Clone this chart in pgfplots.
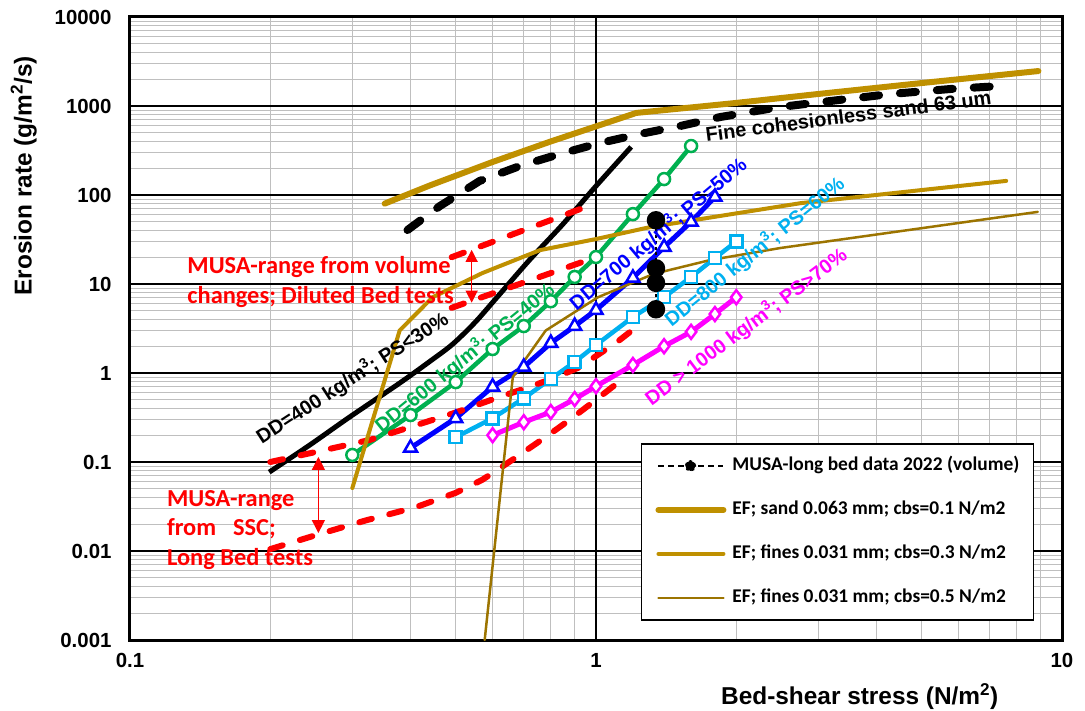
\documentclass[border=0pt]{standalone}
\usepackage{fontspec}
\setmainfont{Liberation Sans}
\newfontfamily\calibri{Carlito}
\usepackage{pgfplots}
\pgfplotsset{compat=1.18}
\usetikzlibrary{arrows.meta}

\definecolor{efgold}{RGB}{191,144,0}
\definecolor{efbrown}{RGB}{156,116,0}
\definecolor{ddgreen}{RGB}{0,176,80}
\definecolor{ddcyan}{RGB}{0,176,240}
\definecolor{ddmag}{RGB}{255,0,255}

\newcommand{\tickfont}{\bfseries\fontsize{20.5}{24}\selectfont}
\newcommand{\titlefont}{\bfseries\fontsize{24.5}{28}\selectfont}
\newcommand{\curvefont}{\bfseries\fontsize{20}{24}\selectfont}
\newcommand{\notefont}{\calibri\bfseries\fontsize{24.5}{30}\selectfont}

\begin{document}
\begin{tikzpicture}
\useasboundingbox (-130bp,-71bp) rectangle (955bp,640bp);
\begin{axis}[
    scale only axis, width=932bp, height=623bp,
    xmode=log, ymode=log,
    xmin=0.1, xmax=10, ymin=0.001, ymax=10000,
    xtick={0.1,1,10}, xticklabels={0.1,1,10},
    ytick={0.001,0.01,0.1,1,10,100,1000,10000},
    yticklabels={0.001,0.01,0.1,1,10,100,1000,10000},
    grid=both,
    major grid style={black, line width=1.5bp},
    minor grid style={black!25, line width=1bp},
    axis line style={black, line width=3bp},
    major tick length=0pt, minor tick length=0pt,
    tick label style={font=\tickfont},
    yticklabel style={xshift=-15bp},
    xticklabel style={yshift=-10bp},
    xlabel={Bed-shear stress (N/m\textsuperscript{2})},
    ylabel={Erosion rate (g/m\textsuperscript{2}/s)},
    label style={font=\titlefont},
    xlabel style={at={(axis description cs:0.783,-0.0915)}, anchor=center},
    ylabel style={at={(axis description cs:-0.114,0.745)}, anchor=center},
    legend style={
        at={(axis description cs:0.970,0.316)}, anchor=north east,
        draw=black, line width=1.5bp, fill=white,
        font=\calibri\bfseries\fontsize{19.5}{22}\selectfont,
        inner xsep=14bp, inner ysep=13bp, row sep=26bp,
        nodes={inner sep=0pt, text height=14bp, text depth=4bp},
    },
    legend cell align=left,
    legend image code/.code={\draw[#1] (0bp,0bp) -- (65bp,0bp); \path (71bp,0bp);},
]

% major grid line at x=1 again, so the minor y grid does not break it
\addplot[black, line width=1.5bp, forget plot] coordinates {(1,0.001) (1,10000)};

% fine cohesionless sand 63 um
\addplot[black, line width=8bp, dash pattern=on 16bp off 21bp, line cap=round, forget plot] coordinates {
    (0.394,40.4) (0.462,75) (0.563,144) (0.687,212) (0.837,289) (1.02,384)
    (1.243,485) (1.516,596) (1.848,752) (2.488,975) (3.184,1138) (4.285,1364)
    (5.77,1553) (7.39,1678)
};

% DD=400
\addplot[black, line width=5bp, smooth, tension=0.5, forget plot] coordinates {
    (0.199,0.077) (0.243,0.155) (0.296,0.32) (0.379,0.77) (0.44,1.35) (0.492,2.1)
    (0.55,3.7) (0.612,7.0) (0.72,18.6) (0.849,47) (1.0,126) (1.19,347)
};

% DD=600
\addplot[ddgreen, line width=4.5bp, mark=*, mark size=6bp, mark options={fill=white, line width=2.5bp}, forget plot] coordinates {
    (0.3,0.12) (0.4,0.337) (0.5,0.79) (0.6,1.86) (0.7,3.37) (0.8,6.4)
    (0.9,12) (1.0,20.1) (1.2,61) (1.4,151) (1.6,355)
};

% DD=700
\addplot[blue, line width=5bp, mark=triangle*, mark size=7.5bp, mark options={fill=white, line width=2.5bp}, forget plot] coordinates {
    (0.4,0.144) (0.5,0.31) (0.6,0.70) (0.7,1.17) (0.8,2.17) (0.9,3.37)
    (1.0,5.1) (1.2,11.7) (1.4,26) (1.6,50) (1.8,95)
};

% DD=800
\addplot[ddcyan, line width=4.5bp, mark=square*, mark size=6bp, mark options={fill=white, line width=2.5bp}, forget plot] coordinates {
    (0.5,0.19) (0.6,0.31) (0.7,0.52) (0.8,0.86) (0.9,1.33) (1.0,2.06)
    (1.2,4.26) (1.4,7.1) (1.6,12) (1.8,19.6) (2.0,30)
};

% DD>1000
\addplot[ddmag, line width=5bp, mark=diamond*, mark size=7bp, mark options={fill=white, line width=2.5bp}, forget plot] coordinates {
    (0.6,0.20) (0.7,0.28) (0.8,0.365) (0.9,0.51) (1.0,0.71) (1.2,1.23)
    (1.4,2.0) (1.6,2.9) (1.8,4.6) (2.0,7.1)
};

% MUSA ranges
\addplot[red, line width=6bp, dash pattern=on 13bp off 18bp, line cap=round, forget plot] coordinates {
    (0.49,20) (1.0,81)
};
\addplot[red, line width=6bp, dash pattern=on 13bp off 18bp, line cap=round, forget plot] coordinates {
    (0.49,5.4) (1.0,20)
};
\addplot[red, line width=6bp, dash pattern=on 13bp off 18bp, line cap=round, forget plot] coordinates {
    (0.2,0.1) (0.251,0.13) (0.327,0.177) (0.425,0.274) (0.5,0.36) (0.622,0.54)
    (0.71,0.68) (0.824,0.90) (0.924,1.17) (1.0,1.55) (1.11,2.23) (1.19,2.96)
};
\addplot[red, line width=6bp, dash pattern=on 13bp off 18bp, line cap=round, forget plot] coordinates {
    (0.2,0.0105) (0.255,0.0155) (0.32,0.022) (0.41,0.031) (0.5,0.045) (0.57,0.063)
    (0.676,0.114) (0.79,0.2) (0.88,0.3) (1.0,0.5) (1.17,0.95)
};

% MUSA long bed data
\addplot[black, line width=1.5bp, dashed, mark=*, mark size=8.5bp, mark options={solid},
    legend image code/.code={
        \draw[black, line width=1.8bp, dash pattern=on 6bp off 4bp] (0bp,0bp) -- (65bp,0bp);
        \fill[black] (32bp,0bp) circle (5bp);
        \path (71bp,0bp);}
] coordinates {
    (1.345,5.2) (1.345,10.3) (1.345,15) (1.345,52)
};
\addlegendentry{MUSA-long bed data 2022 (volume)}

% EF curves
\addplot[efgold, line width=6bp, line cap=round] coordinates {
    (0.352,80) (0.44,128) (0.6,235) (0.8,400) (0.98,570) (1.22,836)
    (2,1083) (3,1365) (5,1811) (8.9,2470)
};
\addlegendentry{EF; sand 0.063 mm; cbs=0.1 N/m2}

\addplot[efgold, line width=4bp, line cap=round] coordinates {
    (0.30,0.051) (0.379,3.0) (0.446,7.1) (0.571,13.3) (0.758,24) (1.0,32)
    (1.31,43.7) (2.75,81) (7.59,144)
};
\addlegendentry{EF; fines 0.031 mm; cbs=0.3 N/m2}

\addplot[efbrown, line width=2.5bp, line cap=round] coordinates {
    (0.577,0.001) (0.663,0.9) (0.78,3.0) (1.01,7.1) (1.33,13) (1.76,18.6)
    (2.49,25.4) (8.87,64.6)
};
\addlegendentry{EF; fines 0.031 mm; cbs=0.5 N/m2}

% labels
\node[rotate=7.4, font=\curvefont] at (axis cs:3.48,772) {Fine cohesionless sand 63 um};
\node[rotate=33, font=\curvefont] at (axis cs:0.300,0.88) {DD=400 kg/m\textsuperscript{3}; PS<30\%};
\node[rotate=39, font=\curvefont, text=ddgreen] at (axis cs:0.523,1.47) {DD=600 kg/m\textsuperscript{3}; PS=40\%};
\node[rotate=40, font=\curvefont, text=blue] at (axis cs:1.36,36.5) {DD=700 kg/m\textsuperscript{3}; PS=50\%};
\node[rotate=39, font=\curvefont, text=ddcyan] at (axis cs:2.19,22.9) {DD=800 kg/m\textsuperscript{3}; PS=60\%};
\node[rotate=37, font=\curvefont, text=ddmag] at (axis cs:2.10,3.29) {DD > 1000 kg/m\textsuperscript{3}; PS>70\%};

\node[anchor=west, align=left, font=\notefont, text=red, inner sep=0pt] at (axis cs:0.1327,10.5)
    {MUSA-range from volume\\changes; Diluted Bed tests};
\node[anchor=west, align=left, font=\notefont, text=red, inner sep=0pt] at (axis cs:0.120,0.0172)
    {MUSA-range\\from\hspace{17bp}SSC;\\Long Bed tests};

\draw[red, line width=1.2bp, {Triangle[length=12bp,width=12bp]}-{Triangle[length=12bp,width=12bp]}]
    (axis cs:0.541,24.2) -- (axis cs:0.541,6.17);
\draw[red, line width=1.2bp, {Triangle[length=13bp,width=13bp]}-{Triangle[length=13bp,width=13bp]}]
    (axis cs:0.2537,0.114) -- (axis cs:0.2537,0.0159);

\end{axis}
\end{tikzpicture}
\end{document}
